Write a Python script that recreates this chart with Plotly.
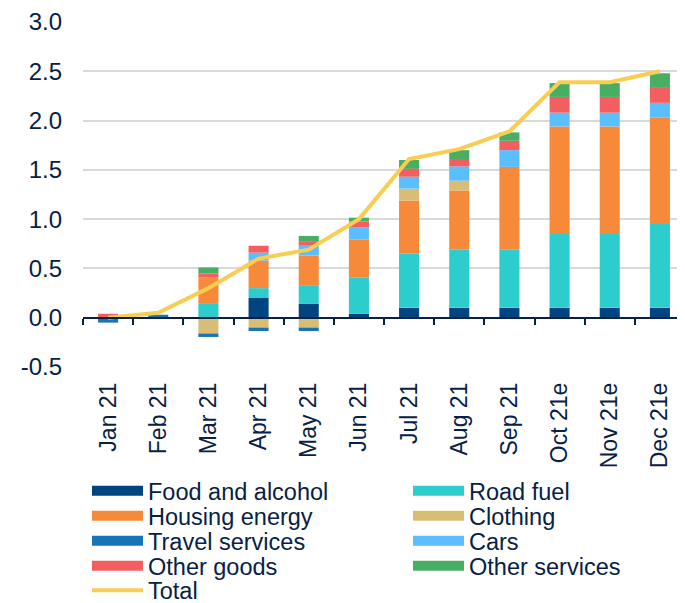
import plotly.graph_objects as go

months = ["Jan 21", "Feb 21", "Mar 21", "Apr 21", "May 21", "Jun 21",
          "Jul 21", "Aug 21", "Sep 21", "Oct 21e", "Nov 21e", "Dec 21e"]

food = [0, 0, 0, 0.20, 0.14, 0.04, 0.10, 0.10, 0.10, 0.10, 0.10, 0.10]
road_fuel = [0, 0, 0.14, 0.10, 0.19, 0.37, 0.55, 0.59, 0.59, 0.75, 0.75, 0.85]
housing = [0, 0, 0.27, 0.28, 0.30, 0.385, 0.54, 0.60, 0.84, 1.09, 1.09, 1.08]
clothing = [0, 0, -0.16, -0.10, -0.10, 0, 0.12, 0.10, 0, 0, 0, 0]
travel = [-0.05, 0.03, -0.035, -0.035, -0.035, 0, 0, 0, 0, 0, 0, 0]
cars = [0, 0, 0, 0.08, 0.10, 0.12, 0.12, 0.145, 0.17, 0.14, 0.14, 0.15]
other_goods = [0.04, 0, 0.04, 0.07, 0.04, 0.06, 0.08, 0.075, 0.095, 0.16, 0.16, 0.16]
other_services = [0, 0, 0.06, 0, 0.06, 0.04, 0.09, 0.09, 0.085, 0.14, 0.14, 0.14]
total = [0.0, 0.05, 0.30, 0.60, 0.69, 1.00, 1.61, 1.71, 1.89, 2.39, 2.39, 2.50]

y_tick_values = [-0.5, 0.0, 0.5, 1.0, 1.5, 2.0, 2.5, 3.0]
y_tick_labels = ["-0.5", "0.0", "0.5", "1.0", "1.5", "2.0", "2.5", "3.0"]

series_names = ["Food and alcohol", "Road fuel", "Housing energy", "Clothing",
                "Travel services", "Cars", "Other goods", "Other services"]
series_values = [food, road_fuel, housing, clothing, travel, cars, other_goods, other_services]
series_colors = ["#004481", "#2DCCCD", "#F7893B", "#D8BE75",
                 "#1973B8", "#5BBEFF", "#F35E61", "#48AE64"]
total_color = "#F8CD51"
text_color = "#072146"
FONT = "Liberation Sans"

# the page body adds an 8px offset; figure is sized to fill the rest of the window
OFF = 8
FIG_W, FIG_H = 685 - OFF, 603 - OFF


def legend_key(i):
    return "legend" if i == 0 else f"legend{i + 1}"


fig = go.Figure()

for i, (name, vals, col) in enumerate(zip(series_names, series_values, series_colors)):
    fig.add_trace(go.Bar(x=months, y=vals, name=name, marker=dict(color=col, line=dict(width=0)),
                         width=0.4, showlegend=False, legendgroup=name))
    # legend swatch entry
    fig.add_trace(go.Scatter(x=[None], y=[None], mode="lines", name=name, legendgroup=name,
                             line=dict(color=col, width=11), legend=legend_key(i),
                             hoverinfo="skip"))

fig.add_trace(go.Scatter(x=months, y=total, mode="lines", name="Total",
                         line=dict(color=total_color, width=4), legend=legend_key(8)))

# helper trace for the zero axis with boundary ticks
fig.add_trace(go.Scatter(x=months, y=total, xaxis="x2", yaxis="y", mode="lines",
                         line=dict(width=0), opacity=0, showlegend=False, hoverinfo="skip"))

# layout in window pixels, converted to figure pixels
plot_top, plot_bottom, plot_left, plot_right = 22 - OFF, 367 - OFF, 83 - OFF, 685 - OFF
row_px = [v - OFF for v in [491.0, 516.0, 541.0, 566.0, 590.5]]
col_px = [v - OFF for v in [87, 408]]
legends = {}
for i in range(9):
    r, c = divmod(i, 2)
    legends[legend_key(i)] = dict(
        x=(col_px[c] - plot_left) / (plot_right - plot_left),
        y=(plot_bottom - row_px[r]) / (plot_bottom - plot_top),
        xanchor="left", yanchor="middle", orientation="v",
        bgcolor="rgba(0,0,0,0)", borderwidth=0, itemwidth=51,
        font=dict(family=FONT, size=23.5, color=text_color),
        itemclick=False, itemdoubleclick=False,
    )

fig.update_layout(
    width=FIG_W, height=FIG_H,
    margin=dict(l=plot_left, r=FIG_W - plot_right, t=plot_top, b=FIG_H - plot_bottom,
                autoexpand=False),
    paper_bgcolor="white", plot_bgcolor="white",
    barmode="relative",
    font=dict(family=FONT, size=24, color=text_color),
    xaxis=dict(type="category", categoryorder="array", categoryarray=months,
               range=[-0.5, 11.5], showline=False, showgrid=False, ticks="",
               tickangle=-90, tickfont=dict(size=23, color=text_color),
               ticklabelstandoff=10, fixedrange=True),
    xaxis2=dict(type="category", overlaying="x", anchor="free", position=0.5 / 3.5,
                matches="x", showline=True, linecolor=text_color, linewidth=2,
                ticks="outside", tickson="boundaries", ticklen=6, tickwidth=2,
                tickcolor=text_color, showticklabels=False, showgrid=False),
    yaxis=dict(range=[-0.5, 3.0], tickmode="array", tickvals=y_tick_values,
               ticktext=y_tick_labels,
               showgrid=True, gridcolor="#d9d9d9", gridwidth=1.5, zeroline=False,
               showline=False, ticks="", tickfont=dict(size=24, color=text_color),
               ticklabelstandoff=20),
    **legends,
)

fig.write_html("out.html")
